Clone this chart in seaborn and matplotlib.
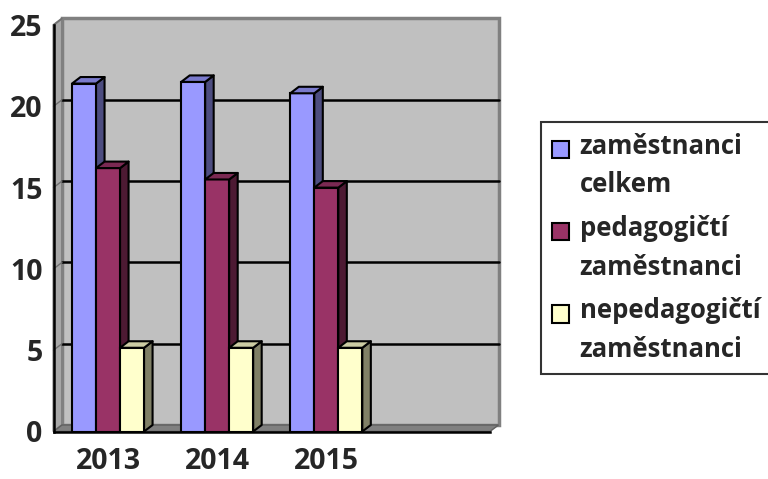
import numpy as np
import pandas as pd
import seaborn as sns
import matplotlib
matplotlib.use('Agg')
import matplotlib.pyplot as plt
from matplotlib.patches import Polygon, Rectangle, Patch
from matplotlib.legend_handler import HandlerPatch

# data
years = ['2013', '2014', '2015']
series = ['zaměstnanci\ncelkem', 'pedagogičtí\nzaměstnanci', 'nepedagogičtí\nzaměstnanci']
celkem = [21.4, 21.5, 20.8]
pedagogicti = [16.2, 15.5, 15.0]
nepedagogicti = [5.15, 5.15, 5.15]
colors = ['#9999FF', '#993366', '#FFFFCC']
yticks = [0, 5, 10, 15, 20, 25]

df = pd.DataFrame({
    'rok': years * 3,
    'serie': [series[0]] * 3 + [series[1]] * 3 + [series[2]] * 3,
    'pocet': celkem + pedagogicti + nepedagogicti,
})

sns.set_theme(style='white')
plt.rcParams['font.family'] = ['Open Sans', 'DejaVu Sans']
plt.rcParams['font.weight'] = 'bold'

TICK_FS = 20.5
LEG_FS = 18.5
W, H = 768, 479
fig = plt.figure(figsize=(W / 100, H / 100), dpi=100)
ax_l, ax_r, ax_t, ax_b = 53.5, 490, 25, 431.5
ax = fig.add_axes([ax_l / W, 1 - ax_b / H, (ax_r - ax_l) / W, (ax_b - ax_t) / H])
ax.set_facecolor('none')

sns.barplot(data=df, x='rok', y='pocet', hue='serie', hue_order=series,
            palette=colors, width=0.66, saturation=1, legend=False,
            edgecolor='black', linewidth=1.5, ax=ax)
bars = sorted(ax.patches, key=lambda p: p.get_x())

ax.set_xlim(-0.5, 3.5)
ax.set_ylim(0, 25)

# 3D depth offset (pixels -> data units)
dx = 8.5 / ((ax_r - ax_l) / 4)
dy = 6.5 / ((ax_b - ax_t) / 25)
x0, x1 = -0.5, 3.5

# back wall, side wall, floor
ax.add_patch(Rectangle((x0 + dx, dy), x1 - x0, 25, facecolor='#C0C0C0',
                       edgecolor='#808080', lw=2.5, zorder=0.5, clip_on=False))
ax.add_patch(Polygon([(x0, 0), (x0 + dx, dy), (x0 + dx, 25 + dy), (x0, 25)],
                     facecolor='#A8A8A8', edgecolor='#808080', lw=1.5, zorder=0.6, clip_on=False))
ax.add_patch(Polygon([(x0, 0), (x1, 0), (x1 + dx, dy), (x0 + dx, dy)],
                     facecolor='#808080', edgecolor='#606060', lw=1, zorder=0.6, clip_on=False))
for v in yticks[1:-1]:
    ax.plot([x0 + dx, x1 + dx], [v + dy, v + dy], color='black', lw=1.8, zorder=0.8, clip_on=False)
for v in yticks[1:]:
    ax.plot([x0, x0 + dx], [v, v + dy], color='#707070', lw=1, zorder=0.8, clip_on=False)

# sides and tops of the bars, drawn left to right
for i, b in enumerate(bars):
    x, w, h = b.get_x(), b.get_width(), b.get_height()
    fc = np.array(b.get_facecolor()[:3])
    z = 2 + i * 0.01
    b.set_zorder(z)
    ax.add_patch(Polygon([(x + w, 0), (x + w + dx, dy), (x + w + dx, h + dy), (x + w, h)],
                         facecolor=fc * 0.5, edgecolor='black', lw=1.5, zorder=z, joinstyle='round'))
    ax.add_patch(Polygon([(x, h), (x + dx, h + dy), (x + w + dx, h + dy), (x + w, h)],
                         facecolor=fc * 0.8, edgecolor='black', lw=1.5, zorder=z, joinstyle='round'))

# axes, ticks and labels
sns.despine(ax=ax, top=True, right=True)
for s in ['left', 'bottom']:
    ax.spines[s].set_color('black')
    ax.spines[s].set_linewidth(1.8)
    ax.spines[s].set_zorder(3)
ax.set_yticks(yticks)
ax.set_yticklabels([str(v) for v in yticks], fontsize=TICK_FS, fontweight='bold')
ax.tick_params(axis='y', direction='out', length=5, width=1.5, color='black', pad=3)
ax.set_xticks([-0.5, 0.5, 1.5, 2.5, 3.5])
ax.set_xticklabels([])
ax.tick_params(axis='x', which='major', direction='out', length=6, width=1.5, color='black')
ax.set_xticks([0, 1, 2], minor=True)
ax.set_xticklabels(years, minor=True, fontsize=TICK_FS, fontweight='bold')
ax.tick_params(axis='x', which='minor', length=0, pad=11)
ax.set_xlabel('')
ax.set_ylabel('')


def first_line_patch(legend, orig_handle, xdescent, ydescent, width, height, fontsize):
    return Rectangle((-xdescent, -ydescent + 0.68 * fontsize), width, height)


handles = [Patch(facecolor=c, edgecolor='black', lw=1.5, label=s) for c, s in zip(colors, series)]
leg = fig.legend(handles=handles, loc='upper left', bbox_to_anchor=(541 / W, 1 - 122 / H),
                 bbox_transform=fig.transFigure, borderaxespad=0, frameon=True, fancybox=False,
                 prop={'size': LEG_FS, 'weight': 'bold'}, handlelength=0.66, handleheight=0.66,
                 handletextpad=0.42, borderpad=0.42, labelspacing=0.65,
                 handler_map={Patch: HandlerPatch(patch_func=first_line_patch)})
leg.get_frame().set_edgecolor('black')
leg.get_frame().set_linewidth(1.5)
for t in leg.get_texts():
    t.set_linespacing(1.55)

fig.savefig('out.png', dpi=100)
